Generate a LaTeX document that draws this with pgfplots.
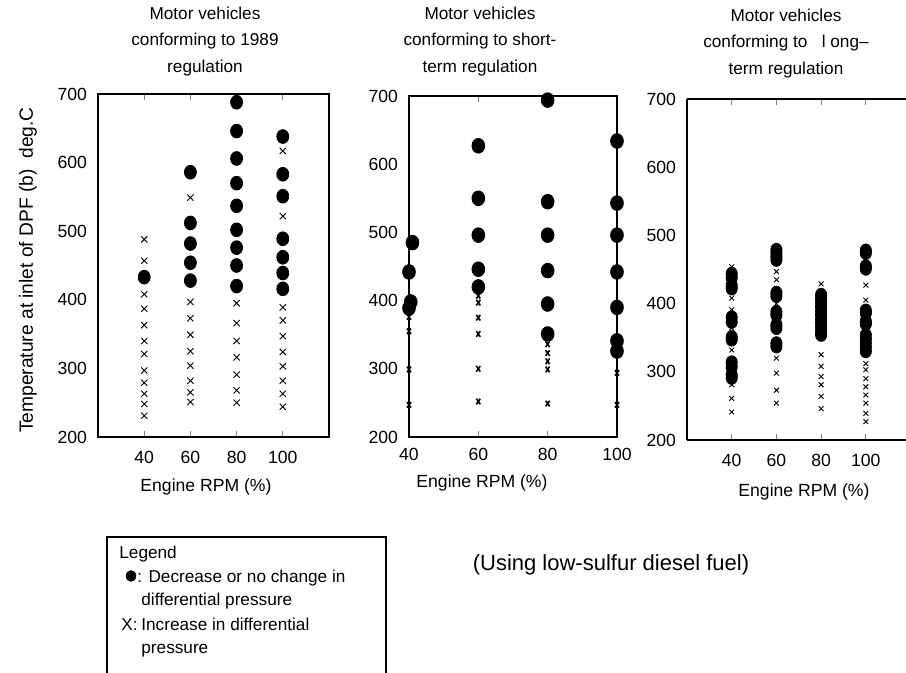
\documentclass[border=0pt]{standalone}
\usepackage{fontspec}
\setmainfont{Liberation Sans}
\usepackage{pgfplots}
\pgfplotsset{compat=1.18}

\pgfplotsset{
  dpf/.style={
    scale only axis, anchor=south west, clip=false,
    ymin=200, ymax=700, ytick={200,300,...,700},
    xtick={40,60,80,100},
    axis line style={line width=0.9pt},
    tick label style={font=\fontsize{8.8}{10}\selectfont},
    /pgf/number format/assume math mode=true,
    ytick style={draw=none},
    xtick style={line width=0.4pt},
    major tick length=3pt, tick align=inside,
    yticklabel style={xshift=-2pt},
  },
  dot/.style={only marks, mark=*, mark options={fill=black, draw=black, yscale=1.15}},
  crs/.style={only marks, mark=x, mark options={draw=black, line width=0.45pt}},
}

\begin{document}
\begin{tikzpicture}[x=1pt,y=1pt]
\useasboundingbox (0,0) rectangle (453,336.5);

% 1989 regulation
\begin{axis}[dpf, at={(49pt,118pt)}, width=115.5pt, height=171.5pt,
  xmin=20, xmax=120, xticklabel style={yshift=-3.5pt}]
\addplot[crs, mark size=2.2pt] coordinates {
 (40,488)(40,457)(40,408)(40,387)(40,363)(40,340)(40,321)(40,297)(40,279)(40,263)(40,248)(40,231)
 (60,549)(60,397)(60,373)(60,349)(60,325)(60,304)(60,282)(60,265)(60,251)
 (80,395)(80,366)(80,340)(80,316)(80,291)(80,268)(80,250)
 (100,617)(100,522)(100,389)(100,370)(100,347)(100,324)(100,303)(100,282)(100,263)(100,244)
};
\addplot[dot, mark size=3pt] coordinates {
 (40,433)
 (60,586)(60,512)(60,482)(60,454)(60,428)
 (80,688)(80,646)(80,606)(80,570)(80,537)(80,502)(80,476)(80,450)(80,420)
 (100,638)(100,583)(100,551)(100,489)(100,462)(100,439)(100,416)
};
\end{axis}

% short-term regulation
\begin{axis}[dpf, at={(204.5pt,118pt)}, width=104pt, height=170.5pt,
  xmin=40, xmax=100, xticklabel style={yshift=-2pt}]
\addplot[crs, mark size=2pt, mark options={xscale=0.7, line width=0.8pt}] coordinates {
 (40,376)(40,355)(40,299)(40,247)
 (60,407)(60,397)(60,375)(60,351)(60,300)(60,252)
 (80,336)(80,323)(80,311)(80,299)(80,249)
 (100,294)(100,247)
};
\addplot[dot, mark size=3.2pt] coordinates {
 (41,485)(40,442)(40.5,398)(40,389)
 (60,627)(60,550)(60,496)(60,446)(60,420)
 (80,694)(80,545)(80,496)(80,444)(80,395)(80,351)
 (100,634)(100,543)(100,496)(100,442)(100,390)(100,341)(100,326)
};
\end{axis}

% long-term regulation (right side runs off the page)
\begin{axis}[dpf, at={(343.5pt,116.5pt)}, width=114pt, height=170.5pt,
  xmin=20, xmax=122, xticklabel style={yshift=-3.5pt},
  axis x line*=box, axis y line*=left]
\addplot[crs, mark size=1.7pt] coordinates {
 (40,454)(40,420)(40,408)(40,391)(40,364)(40,332)(40,281)(40,261)(40,241)
 (60,447)(60,435)(60,422)(60,400)(60,320)(60,298)(60,273)(60,254)
 (80,429)(80,325)(80,308)(80,293)(80,281)(80,264)(80,246)
 (100,427)(100,405)(100,312)(100,303)(100,290)(100,278)(100,266)(100,254)(100,239)(100,227)
};
\addplot[dot, mark size=2.8pt] coordinates {
 (40,444)(40,438)(40,427)(40,422)(40,380)(40,373)(40,351)(40,347)(40,314)(40,307)(40,296)(40,291)
 (60,479)(60,474)(60,469)(60,464)(60,416)(60,411)(60,388)(60,383)(60,369)(60,364)(60,342)(60,337)
 (80,413)(80,407)(80,401)(80,395)(80,389)(80,383)(80,377)(80,371)(80,365)(80,359)(80,354)
 (100,478)(100,474)(100,455)(100,451)(100,390)(100,386)(100,374)(100,370)(100,354)(100,348)(100,342)(100,336)(100,330)
};
\end{axis}

% titles
\begin{scope}[every node/.style={align=center, font=\fontsize{8.6}{13.25}\selectfont}]
\node at (102.5,315.75) {Motor vehicles\\conforming to 1989\\regulation};
\node at (240,315.75) {Motor vehicles\\conforming to short-\\term regulation};
\node at (393,314.75) {Motor vehicles\\conforming to \ \ l ong--\\term regulation};
\end{scope}

% axis labels
\node[rotate=90, font=\fontsize{9.6}{11}\selectfont] at (14,201.5) {Temperature at inlet of DPF (b) \ deg.C};
\begin{scope}[every node/.style={font=\fontsize{8.8}{10}\selectfont}]
\node at (103,93) {Engine RPM (\%)};
\node at (241,95) {Engine RPM (\%)};
\node at (402,90.5) {Engine RPM (\%)};
\end{scope}

% legend box
\draw[line width=0.6pt] (53.5,-10) rectangle (193,68);
\begin{scope}[every node/.style={anchor=base west, font=\fontsize{8.6}{10}\selectfont, inner sep=0pt}]
\node at (59.5,57) {Legend};
\fill (65.5,48.5) ellipse (2.6 and 2.9);
\node at (68.5,45) {: Decrease or no change in};
\node at (70.5,33.5) {differential pressure};
\node at (60.5,21) {X:};
\node at (70.5,21) {Increase in differential};
\node at (70.5,9.5) {pressure};
\end{scope}
\node[font=\fontsize{11}{12}\selectfont] at (305.5,54) {(Using low-sulfur diesel fuel)};
\end{tikzpicture}
\end{document}
